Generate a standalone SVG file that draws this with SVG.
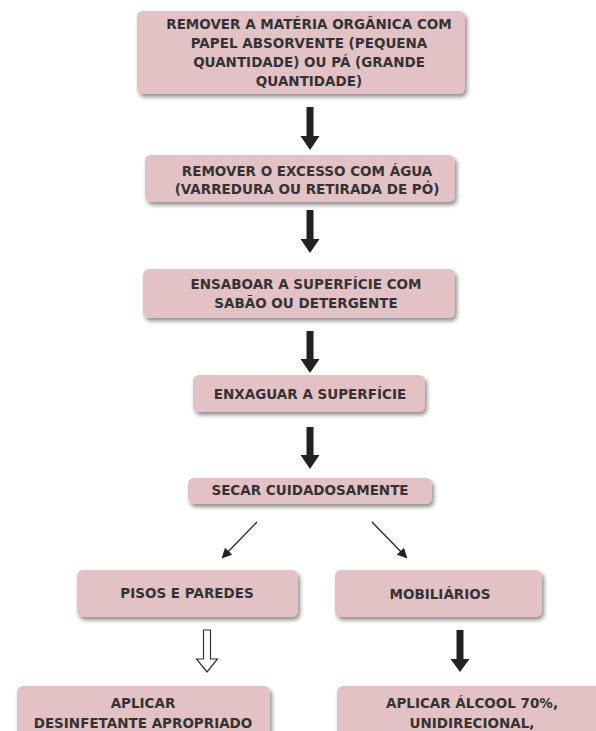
<svg xmlns="http://www.w3.org/2000/svg" width="596" height="731" viewBox="0 0 596 731">
<defs>
<filter id="sh" x="-10%" y="-20%" width="125%" height="150%">
<feDropShadow dx="2" dy="3" stdDeviation="2" flood-color="#000" flood-opacity="0.45"/>
</filter>
<marker id="ah" markerWidth="10" markerHeight="10" refX="8" refY="5" orient="auto" markerUnits="userSpaceOnUse">
<path d="M0,0 L10,5 L0,10 Z" fill="#222"/>
</marker>
</defs>
<style>
.box{fill:#e3c2c6;filter:url(#sh)}
text{font-family:"DejaVu Sans","Liberation Sans",Arial,sans-serif;font-weight:bold;font-size:13.5px;fill:#333;text-anchor:middle}
.thick{fill:#222}
.hollow{fill:#fff;stroke:#333;stroke-width:1.2}
.diag{stroke:#333;stroke-width:1.5;fill:none;marker-end:url(#ah)}
</style>
<rect width="596" height="731" fill="#fff"/>
<g id="n1"><rect class="box" x="137" y="11" width="328" height="83" rx="6"/>
<text x="309" y="29">REMOVER A MATÉRIA ORGÂNICA COM</text>
<text x="309" y="48">PAPEL ABSORVENTE (PEQUENA</text>
<text x="309" y="67">QUANTIDADE) OU PÁ (GRANDE</text>
<text x="309" y="86">QUANTIDADE)</text></g>
<g id="n2"><rect class="box" x="145" y="155" width="310" height="47" rx="6"/>
<text x="307" y="176">REMOVER O EXCESSO COM ÁGUA</text>
<text x="307" y="194">(VARREDURA OU RETIRADA DE PÓ)</text></g>
<g id="n3"><rect class="box" x="143" y="269" width="312" height="49" rx="6"/>
<text x="306" y="289">ENSABOAR A SUPERFÍCIE COM</text>
<text x="306" y="308">SABÃO OU DETERGENTE</text></g>
<g id="n4"><rect class="box" x="193" y="375" width="232" height="37" rx="6"/>
<text x="310" y="399">ENXAGUAR A SUPERFÍCIE</text></g>
<g id="n5"><rect class="box" x="188" y="478" width="244" height="26" rx="6"/>
<text x="310" y="495">SECAR CUIDADOSAMENTE</text></g>
<g id="n6"><rect class="box" x="77" y="570" width="221" height="47" rx="6"/>
<text x="187" y="598">PISOS E PAREDES</text></g>
<g id="n7"><rect class="box" x="335" y="570" width="207" height="47" rx="6"/>
<text x="440" y="599">MOBILIÁRIOS</text></g>
<g id="n8"><rect class="box" x="17" y="686" width="253" height="60" rx="6"/>
<text x="143" y="708">APLICAR</text>
<text x="143" y="728">DESINFETANTE APROPRIADO</text></g>
<g id="n9"><rect class="box" x="337" y="686" width="270" height="60" rx="6"/>
<text x="472" y="708">APLICAR ÁLCOOL 70%,</text>
<text x="472" y="728">UNIDIRECIONAL,</text></g>
<g id="connectors">
<path class="thick" d="M306.5,107 h7 v29 h6 l-9.5,14 l-9.5,-14 h6 z"/>
<path class="thick" d="M306.5,210 h7 v29 h6 l-9.5,14 l-9.5,-14 h6 z"/>
<path class="thick" d="M306.5,331 h7 v28 h6 l-9.5,14 l-9.5,-14 h6 z"/>
<path class="thick" d="M306.5,427 h7 v28 h6 l-9.5,14 l-9.5,-14 h6 z"/>
<line class="diag" x1="257" y1="522" x2="223" y2="557"/>
<line class="diag" x1="372" y1="522" x2="406" y2="557"/>
<path class="hollow" d="M203.5,630 h7 v29 h7 l-10.5,13 l-10.5,-13 h7 z"/>
<path class="thick" d="M456.5,630 h7 v29 h6 l-9.5,13 l-9.5,-13 h6 z"/>
</g>
</svg>
